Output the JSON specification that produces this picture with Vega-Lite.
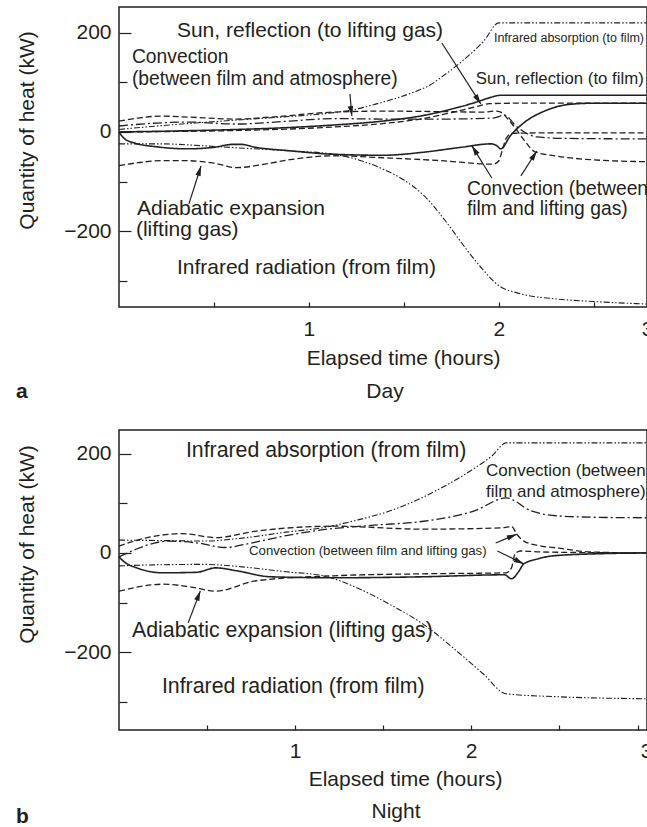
{
  "$schema": "https://vega.github.io/schema/vega-lite/v6.json",
  "padding": {"left": 15, "top": 6, "right": 0, "bottom": 0},
  "config": {
    "font": "Liberation Sans",
    "view": {"stroke": "#231f20", "strokeWidth": 1.5},
    "axis": {"domain": false, "grid": false, "labelFont": "Liberation Sans", "labelFontSize": 21, "labelColor": "#231f20", "titleFont": "Liberation Sans", "titleFontSize": 21, "titleFontWeight": "normal", "titleColor": "#231f20", "tickColor": "#231f20", "tickWidth": 1.2},
    "title": {"font": "Liberation Sans", "fontSize": 21, "color": "#231f20"}
  },
  "datasets": {
    "dayLines": [
      {"s":"IR absorption","t":0,"v":5},{"s":"IR absorption","t":0.2,"v":12},{"s":"IR absorption","t":0.4,"v":18},{"s":"IR absorption","t":0.62,"v":24},{"s":"IR absorption","t":0.85,"v":30},{"s":"IR absorption","t":1.0,"v":34},{"s":"IR absorption","t":1.13,"v":39},{"s":"IR absorption","t":1.25,"v":46},{"s":"IR absorption","t":1.34,"v":55},{"s":"IR absorption","t":1.45,"v":67},{"s":"IR absorption","t":1.55,"v":80},{"s":"IR absorption","t":1.63,"v":93},{"s":"IR absorption","t":1.71,"v":114},{"s":"IR absorption","t":1.82,"v":147},{"s":"IR absorption","t":1.92,"v":183},{"s":"IR absorption","t":2.0,"v":220},{"s":"IR absorption","t":2.78,"v":220},
      {"s":"IR radiation","t":0,"v":-24},{"s":"IR radiation","t":0.22,"v":-24},{"s":"IR radiation","t":0.45,"v":-28},{"s":"IR radiation","t":0.62,"v":-32},{"s":"IR radiation","t":0.9,"v":-38},{"s":"IR radiation","t":1.13,"v":-45},{"s":"IR radiation","t":1.25,"v":-55},{"s":"IR radiation","t":1.39,"v":-75},{"s":"IR radiation","t":1.5,"v":-97},{"s":"IR radiation","t":1.61,"v":-130},{"s":"IR radiation","t":1.72,"v":-180},{"s":"IR radiation","t":1.82,"v":-232},{"s":"IR radiation","t":1.91,"v":-275},{"s":"IR radiation","t":2.0,"v":-310},{"s":"IR radiation","t":2.1,"v":-325},{"s":"IR radiation","t":2.31,"v":-337},{"s":"IR radiation","t":2.5,"v":-342},{"s":"IR radiation","t":2.78,"v":-347},
      {"s":"Sun to film","t":0,"v":0},{"s":"Sun to film","t":0.3,"v":2},{"s":"Sun to film","t":0.62,"v":5},{"s":"Sun to film","t":0.9,"v":9},{"s":"Sun to film","t":1.13,"v":14},{"s":"Sun to film","t":1.39,"v":22},{"s":"Sun to film","t":1.6,"v":33},{"s":"Sun to film","t":1.75,"v":46},{"s":"Sun to film","t":1.88,"v":60},{"s":"Sun to film","t":1.96,"v":70},{"s":"Sun to film","t":2.01,"v":74},{"s":"Sun to film","t":2.1,"v":74},{"s":"Sun to film","t":2.78,"v":74},
      {"s":"Sun to gas","t":0,"v":0},{"s":"Sun to gas","t":0.3,"v":1},{"s":"Sun to gas","t":0.62,"v":3},{"s":"Sun to gas","t":0.9,"v":6},{"s":"Sun to gas","t":1.13,"v":10},{"s":"Sun to gas","t":1.39,"v":17},{"s":"Sun to gas","t":1.6,"v":27},{"s":"Sun to gas","t":1.75,"v":39},{"s":"Sun to gas","t":1.88,"v":51},{"s":"Sun to gas","t":1.95,"v":57},{"s":"Sun to gas","t":2.1,"v":58},{"s":"Sun to gas","t":2.78,"v":58},
      {"s":"Conv film-gas (film)","t":0,"v":0},{"s":"Conv film-gas (film)","t":0.03,"v":-14},{"s":"Conv film-gas (film)","t":0.08,"v":-22},{"s":"Conv film-gas (film)","t":0.2,"v":-30},{"s":"Conv film-gas (film)","t":0.36,"v":-34},{"s":"Conv film-gas (film)","t":0.5,"v":-31},{"s":"Conv film-gas (film)","t":0.6,"v":-25},{"s":"Conv film-gas (film)","t":0.64,"v":-25},{"s":"Conv film-gas (film)","t":0.72,"v":-31},{"s":"Conv film-gas (film)","t":0.9,"v":-38},{"s":"Conv film-gas (film)","t":1.13,"v":-45},{"s":"Conv film-gas (film)","t":1.39,"v":-47},{"s":"Conv film-gas (film)","t":1.6,"v":-41},{"s":"Conv film-gas (film)","t":1.8,"v":-31},{"s":"Conv film-gas (film)","t":1.96,"v":-24},{"s":"Conv film-gas (film)","t":1.99,"v":-28},{"s":"Conv film-gas (film)","t":2.01,"v":-34},{"s":"Conv film-gas (film)","t":2.06,"v":-8},{"s":"Conv film-gas (film)","t":2.13,"v":18},{"s":"Conv film-gas (film)","t":2.24,"v":42},{"s":"Conv film-gas (film)","t":2.38,"v":56},{"s":"Conv film-gas (film)","t":2.5,"v":58},{"s":"Conv film-gas (film)","t":2.78,"v":58},
      {"s":"Conv film-gas (gas)","t":0,"v":22},{"s":"Conv film-gas (gas)","t":0.1,"v":28},{"s":"Conv film-gas (gas)","t":0.22,"v":32},{"s":"Conv film-gas (gas)","t":0.36,"v":30},{"s":"Conv film-gas (gas)","t":0.62,"v":26},{"s":"Conv film-gas (gas)","t":0.8,"v":30},{"s":"Conv film-gas (gas)","t":1.13,"v":40},{"s":"Conv film-gas (gas)","t":1.39,"v":42},{"s":"Conv film-gas (gas)","t":1.7,"v":41},{"s":"Conv film-gas (gas)","t":1.92,"v":40},{"s":"Conv film-gas (gas)","t":1.98,"v":42},{"s":"Conv film-gas (gas)","t":2.01,"v":40},{"s":"Conv film-gas (gas)","t":2.05,"v":25},{"s":"Conv film-gas (gas)","t":2.09,"v":6},{"s":"Conv film-gas (gas)","t":2.14,"v":-20},{"s":"Conv film-gas (gas)","t":2.19,"v":-40},{"s":"Conv film-gas (gas)","t":2.31,"v":-49},{"s":"Conv film-gas (gas)","t":2.45,"v":-55},{"s":"Conv film-gas (gas)","t":2.78,"v":-60},
      {"s":"Conv film-atm","t":0,"v":12},{"s":"Conv film-atm","t":0.2,"v":18},{"s":"Conv film-atm","t":0.36,"v":20},{"s":"Conv film-atm","t":0.62,"v":16},{"s":"Conv film-atm","t":0.9,"v":22},{"s":"Conv film-atm","t":1.13,"v":27},{"s":"Conv film-atm","t":1.39,"v":26},{"s":"Conv film-atm","t":1.7,"v":26},{"s":"Conv film-atm","t":1.97,"v":28},{"s":"Conv film-atm","t":2.03,"v":34},{"s":"Conv film-atm","t":2.09,"v":12},{"s":"Conv film-atm","t":2.2,"v":-10},{"s":"Conv film-atm","t":2.35,"v":-13},{"s":"Conv film-atm","t":2.78,"v":-14},
      {"s":"Adiabatic","t":0,"v":-68},{"s":"Adiabatic","t":0.1,"v":-62},{"s":"Adiabatic","t":0.22,"v":-58},{"s":"Adiabatic","t":0.36,"v":-58},{"s":"Adiabatic","t":0.5,"v":-63},{"s":"Adiabatic","t":0.62,"v":-72},{"s":"Adiabatic","t":0.75,"v":-66},{"s":"Adiabatic","t":0.9,"v":-56},{"s":"Adiabatic","t":1.13,"v":-48},{"s":"Adiabatic","t":1.39,"v":-52},{"s":"Adiabatic","t":1.7,"v":-58},{"s":"Adiabatic","t":1.97,"v":-65},{"s":"Adiabatic","t":2.0,"v":-58},{"s":"Adiabatic","t":2.02,"v":-34},{"s":"Adiabatic","t":2.04,"v":-12},{"s":"Adiabatic","t":2.07,"v":-3},{"s":"Adiabatic","t":2.2,"v":-2},{"s":"Adiabatic","t":2.78,"v":-2}
    ],
    "nightLines": [
      {"s":"IR absorption","t":0,"v":26},{"s":"IR absorption","t":0.25,"v":25},{"s":"IR absorption","t":0.48,"v":24},{"s":"IR absorption","t":0.7,"v":30},{"s":"IR absorption","t":0.95,"v":42},{"s":"IR absorption","t":1.16,"v":51},{"s":"IR absorption","t":1.35,"v":66},{"s":"IR absorption","t":1.54,"v":85},{"s":"IR absorption","t":1.7,"v":108},{"s":"IR absorption","t":1.83,"v":131},{"s":"IR absorption","t":1.95,"v":155},{"s":"IR absorption","t":2.02,"v":171},{"s":"IR absorption","t":2.12,"v":196},{"s":"IR absorption","t":2.2,"v":222},{"s":"IR absorption","t":3.0,"v":222},
      {"s":"IR radiation","t":0,"v":-26},{"s":"IR radiation","t":0.2,"v":-24},{"s":"IR radiation","t":0.48,"v":-23},{"s":"IR radiation","t":0.7,"v":-28},{"s":"IR radiation","t":0.95,"v":-38},{"s":"IR radiation","t":1.16,"v":-46},{"s":"IR radiation","t":1.35,"v":-70},{"s":"IR radiation","t":1.54,"v":-104},{"s":"IR radiation","t":1.73,"v":-144},{"s":"IR radiation","t":1.92,"v":-198},{"s":"IR radiation","t":2.07,"v":-244},{"s":"IR radiation","t":2.2,"v":-284},{"s":"IR radiation","t":2.5,"v":-290},{"s":"IR radiation","t":3.0,"v":-294},
      {"s":"Conv film-atm","t":0,"v":-8},{"s":"Conv film-atm","t":0.1,"v":8},{"s":"Conv film-atm","t":0.2,"v":20},{"s":"Conv film-atm","t":0.28,"v":24},{"s":"Conv film-atm","t":0.45,"v":20},{"s":"Conv film-atm","t":0.6,"v":11},{"s":"Conv film-atm","t":0.75,"v":20},{"s":"Conv film-atm","t":0.95,"v":35},{"s":"Conv film-atm","t":1.16,"v":47},{"s":"Conv film-atm","t":1.45,"v":56},{"s":"Conv film-atm","t":1.73,"v":64},{"s":"Conv film-atm","t":2.02,"v":85},{"s":"Conv film-atm","t":2.2,"v":111},{"s":"Conv film-atm","t":2.34,"v":85},{"s":"Conv film-atm","t":2.49,"v":75},{"s":"Conv film-atm","t":2.7,"v":72},{"s":"Conv film-atm","t":3.0,"v":71},
      {"s":"Conv film-gas (gas)","t":0,"v":14},{"s":"Conv film-gas (gas)","t":0.15,"v":30},{"s":"Conv film-gas (gas)","t":0.36,"v":39},{"s":"Conv film-gas (gas)","t":0.55,"v":31},{"s":"Conv film-gas (gas)","t":0.78,"v":44},{"s":"Conv film-gas (gas)","t":1.22,"v":54},{"s":"Conv film-gas (gas)","t":1.73,"v":48},{"s":"Conv film-gas (gas)","t":2.19,"v":51},{"s":"Conv film-gas (gas)","t":2.23,"v":54},{"s":"Conv film-gas (gas)","t":2.26,"v":38},{"s":"Conv film-gas (gas)","t":2.3,"v":24},{"s":"Conv film-gas (gas)","t":2.4,"v":14},{"s":"Conv film-gas (gas)","t":2.49,"v":10},{"s":"Conv film-gas (gas)","t":2.68,"v":2},{"s":"Conv film-gas (gas)","t":3.0,"v":0},
      {"s":"Conv film-gas (film)","t":0,"v":-8},{"s":"Conv film-gas (film)","t":0.03,"v":-18},{"s":"Conv film-gas (film)","t":0.1,"v":-30},{"s":"Conv film-gas (film)","t":0.25,"v":-40},{"s":"Conv film-gas (film)","t":0.44,"v":-39},{"s":"Conv film-gas (film)","t":0.55,"v":-30},{"s":"Conv film-gas (film)","t":0.67,"v":-36},{"s":"Conv film-gas (film)","t":0.86,"v":-48},{"s":"Conv film-gas (film)","t":1.22,"v":-50},{"s":"Conv film-gas (film)","t":1.73,"v":-48},{"s":"Conv film-gas (film)","t":2.19,"v":-44},{"s":"Conv film-gas (film)","t":2.23,"v":-52},{"s":"Conv film-gas (film)","t":2.27,"v":-38},{"s":"Conv film-gas (film)","t":2.3,"v":-22},{"s":"Conv film-gas (film)","t":2.38,"v":-12},{"s":"Conv film-gas (film)","t":2.46,"v":-6},{"s":"Conv film-gas (film)","t":2.68,"v":-2},{"s":"Conv film-gas (film)","t":3.0,"v":0},
      {"s":"Adiabatic","t":0,"v":-77},{"s":"Adiabatic","t":0.25,"v":-63},{"s":"Adiabatic","t":0.4,"v":-68},{"s":"Adiabatic","t":0.55,"v":-77},{"s":"Adiabatic","t":0.78,"v":-56},{"s":"Adiabatic","t":1.22,"v":-46},{"s":"Adiabatic","t":1.73,"v":-42},{"s":"Adiabatic","t":2.2,"v":-40},{"s":"Adiabatic","t":2.23,"v":-30},{"s":"Adiabatic","t":2.25,"v":-2},{"s":"Adiabatic","t":2.28,"v":4},{"s":"Adiabatic","t":2.4,"v":2},{"s":"Adiabatic","t":3.0,"v":0}
    ],
    "dayText": [
      {"k":"L","t":0.305,"v":203,"text":"Sun, reflection (to lifting gas)"},
      {"k":"L","t":0.095,"v":-155,"text":"Adiabatic expansion"},
      {"k":"L","t":0.089,"v":-197,"text":"(lifting gas)"},
      {"k":"L","t":0.305,"v":-274,"text":"Infrared radiation (from film)"},
      {"k":"M","t":0.068,"v":152,"text":"Convection"},
      {"k":"M","t":0.068,"v":107,"text":"(between film and atmosphere)"},
      {"k":"M","t":1.832,"v":-115,"text":"Convection (between"},
      {"k":"M","t":1.832,"v":-155,"text":"film and lifting gas)"},
      {"k":"N","t":1.879,"v":107,"text":"Sun, reflection (to film)"},
      {"k":"S","t":1.974,"v":189,"text":"Infrared absorption (to film)"}
    ],
    "nightText": [
      {"k":"L","t":0.38,"v":206,"text":"Infrared absorption (from film)"},
      {"k":"L","t":0.074,"v":-157,"text":"Adiabatic expansion (lifting gas)"},
      {"k":"L","t":0.244,"v":-270,"text":"Infrared radiation (from film)"},
      {"k":"N","t":2.085,"v":165,"text":"Convection (between"},
      {"k":"N","t":2.085,"v":123,"text":"film and atmosphere)"},
      {"k":"S","t":0.739,"v":4,"text":"Convection (between film and lifting gas)"}
    ],
    "dayArrows": [
      {"t0":1.70,"v0":179.5,"t":1.905,"v":56.5,"angle":147},
      {"t0":1.216,"v0":76.6,"t":1.226,"v":32.3,"angle":172},
      {"t0":0.368,"v0":-145,"t":0.432,"v":-68.6,"angle":17.5},
      {"t0":1.963,"v0":-92.8,"t":1.858,"v":-28,"angle":-32},
      {"t0":2.116,"v0":-88.7,"t":2.2,"v":-38.3,"angle":32.6}
    ],
    "nightArrows": [
      {"t0":0.393,"v0":-141,"t":0.462,"v":-76.6,"angle":20.6},
      {"t0":2.14,"v0":20,"t":2.26,"v":38,"angle":66.8},
      {"t0":2.15,"v0":4,"t":2.30,"v":-22,"angle":115.7}
    ]
  },
  "spacing": 26,
  "resolve": {"scale": {"x": "independent", "y": "independent"}},
  "vconcat": [
    {
      "title": {"text": "a", "orient": "bottom", "anchor": "start", "frame": "bounds", "fontWeight": "bold", "fontSize": 21, "offset": -21},
      "vconcat": [
        {
          "width": 528, "height": 300,
          "title": {"text": "Day", "orient": "bottom", "anchor": "middle", "frame": "group", "dx": 2, "offset": 12, "fontSize": 21, "fontWeight": "normal"},
          "encoding": {
            "x": {"field": "t", "type": "quantitative", "scale": {"domain": [0, 2.78], "nice": false, "zero": false},
                  "axis": {"title": "Elapsed time (hours)", "values": [0.5, 1, 1.5, 2, 2.5, 2.78], "labelExpr": "datum.value == 1 ? '1' : datum.value == 2 ? '2' : datum.value > 2.7 ? '3' : ''", "tickSize": -5, "labelPadding": 16.5, "titlePadding": 8, "titleX": 284, "labelFlush": false}},
            "y": {"field": "v", "type": "quantitative", "scale": {"domain": [-353, 252], "nice": false, "zero": false},
                  "axis": {"title": "Quantity of heat (kW)", "values": [-300, -200, -100, 0, 100, 200], "labelExpr": "datum.value % 200 == 0 ? datum.label : ''", "tickSize": {"condition": {"test": "datum.value % 200 == 0", "value": -12}, "value": -8}, "labelPadding": 20, "titlePadding": 26, "titleY": 123}}
          },
          "layer": [
            {"data": {"name": "dayLines"}, "mark": {"type": "line", "interpolate": "monotone", "color": "#231f20"},
             "encoding": {
               "detail": {"field": "s", "type": "nominal"},
               "strokeDash": {"field": "s", "type": "nominal", "legend": null, "scale": {"domain": ["IR absorption","IR radiation","Sun to film","Sun to gas","Conv film-gas (film)","Conv film-gas (gas)","Conv film-atm","Adiabatic"], "range": [[6,2,1.5,2,1.5,2],[6,2,1.5,2,1.5,2],[1,0],[6,3],[1,0],[6,3],[9,3,2,3],[6,3]]}},
               "strokeWidth": {"field": "s", "type": "ordinal", "legend": null, "scale": {"type": "ordinal", "domain": ["IR absorption","IR radiation","Sun to film","Sun to gas","Conv film-gas (film)","Conv film-gas (gas)","Conv film-atm","Adiabatic"], "range": [1.1,1.1,1.6,1.3,1.6,1.3,1.3,1.3]}}
             }},
            {"data": {"name": "dayArrows"}, "mark": {"type": "rule", "color": "#231f20", "strokeWidth": 1.2},
             "encoding": {"x2": {"field": "t0"}, "y2": {"field": "v0"}}},
            {"data": {"name": "dayArrows"}, "mark": {"type": "point", "shape": "M0,0L0.55,2L-0.55,2Z", "filled": true, "color": "#231f20", "size": 100, "opacity": 1, "strokeWidth": 0},
             "encoding": {"angle": {"field": "angle", "type": "quantitative", "scale": null}}},
            {"data": {"name": "dayText"}, "transform": [{"filter": "datum.k == 'L'"}], "mark": {"type": "text", "align": "left", "baseline": "middle", "font": "Liberation Sans", "fontSize": 21, "color": "#231f20"}, "encoding": {"text": {"field": "text"}}},
            {"data": {"name": "dayText"}, "transform": [{"filter": "datum.k == 'M'"}], "mark": {"type": "text", "align": "left", "baseline": "middle", "font": "Liberation Sans", "fontSize": 19.3, "color": "#231f20"}, "encoding": {"text": {"field": "text"}}},
            {"data": {"name": "dayText"}, "transform": [{"filter": "datum.k == 'N'"}], "mark": {"type": "text", "align": "left", "baseline": "middle", "font": "Liberation Sans", "fontSize": 16.8, "color": "#231f20"}, "encoding": {"text": {"field": "text"}}},
            {"data": {"name": "dayText"}, "transform": [{"filter": "datum.k == 'S'"}], "mark": {"type": "text", "align": "left", "baseline": "middle", "font": "Liberation Sans", "fontSize": 12.5, "color": "#231f20"}, "encoding": {"text": {"field": "text"}}}
          ]
        }
      ]
    },
    {
      "title": {"text": "b", "orient": "bottom", "anchor": "start", "frame": "bounds", "fontWeight": "bold", "fontSize": 21, "offset": -16},
      "vconcat": [
        {
          "width": 528, "height": 300,
          "title": {"text": "Night", "orient": "bottom", "anchor": "middle", "frame": "group", "dx": 13, "offset": 11, "fontSize": 21, "fontWeight": "normal"},
          "encoding": {
            "x": {"field": "t", "type": "quantitative", "scale": {"domain": [0, 3.0], "nice": false, "zero": false},
                  "axis": {"title": "Elapsed time (hours)", "values": [0.5, 1, 1.5, 2, 2.5, 2.95], "labelExpr": "datum.value == 1 ? '1' : datum.value == 2 ? '2' : datum.value > 2.9 ? '3' : ''", "labelOffset": {"condition": {"test": "datum.value > 2.9", "value": 8}, "value": 0}, "tickSize": -5, "labelPadding": 15.2, "titlePadding": 7.3, "titleX": 286, "labelFlush": false}},
            "y": {"field": "v", "type": "quantitative", "scale": {"domain": [-357, 248], "nice": false, "zero": false},
                  "axis": {"title": "Quantity of heat (kW)", "values": [-300, -200, -100, 0, 100, 200], "labelExpr": "datum.value % 200 == 0 ? datum.label : ''", "tickSize": {"condition": {"test": "datum.value % 200 == 0", "value": -12}, "value": -8}, "labelPadding": 20, "titlePadding": 26, "titleY": 114}}
          },
          "layer": [
            {"data": {"name": "nightLines"}, "mark": {"type": "line", "interpolate": "monotone", "color": "#231f20"},
             "encoding": {
               "detail": {"field": "s", "type": "nominal"},
               "strokeDash": {"field": "s", "type": "nominal", "legend": null, "scale": {"domain": ["IR absorption","IR radiation","Sun to film","Sun to gas","Conv film-gas (film)","Conv film-gas (gas)","Conv film-atm","Adiabatic"], "range": [[6,2,1.5,2,1.5,2],[6,2,1.5,2,1.5,2],[1,0],[6,3],[1,0],[6,3],[9,3,2,3],[6,3]]}},
               "strokeWidth": {"field": "s", "type": "ordinal", "legend": null, "scale": {"type": "ordinal", "domain": ["IR absorption","IR radiation","Sun to film","Sun to gas","Conv film-gas (film)","Conv film-gas (gas)","Conv film-atm","Adiabatic"], "range": [1.1,1.1,1.6,1.3,1.6,1.3,1.3,1.3]}}
             }},
            {"data": {"name": "nightArrows"}, "mark": {"type": "rule", "color": "#231f20", "strokeWidth": 1.2},
             "encoding": {"x2": {"field": "t0"}, "y2": {"field": "v0"}}},
            {"data": {"name": "nightArrows"}, "mark": {"type": "point", "shape": "M0,0L0.55,2L-0.55,2Z", "filled": true, "color": "#231f20", "size": 100, "opacity": 1, "strokeWidth": 0},
             "encoding": {"angle": {"field": "angle", "type": "quantitative", "scale": null}}},
            {"data": {"name": "nightText"}, "transform": [{"filter": "datum.k == 'L'"}], "mark": {"type": "text", "align": "left", "baseline": "middle", "font": "Liberation Sans", "fontSize": 21.3, "color": "#231f20"}, "encoding": {"text": {"field": "text"}}},
            {"data": {"name": "nightText"}, "transform": [{"filter": "datum.k == 'N'"}], "mark": {"type": "text", "align": "left", "baseline": "middle", "font": "Liberation Sans", "fontSize": 17, "color": "#231f20"}, "encoding": {"text": {"field": "text"}}},
            {"data": {"name": "nightText"}, "transform": [{"filter": "datum.k == 'S'"}], "mark": {"type": "text", "align": "left", "baseline": "middle", "font": "Liberation Sans", "fontSize": 13.2, "color": "#231f20"}, "encoding": {"text": {"field": "text"}}}
          ]
        }
      ]
    }
  ]
}
